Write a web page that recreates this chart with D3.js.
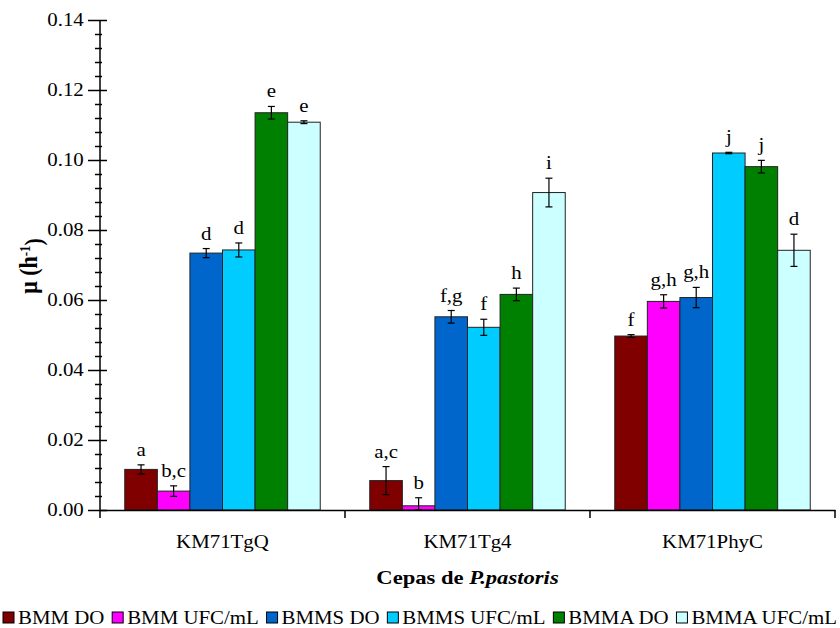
<!DOCTYPE html>
<html>
<head>
<meta charset="utf-8">
<style>
  body { margin: 0; background: #fff; }
  text { font-family: "Liberation Serif", "Times New Roman", serif; fill: #000; }
</style>
</head>
<body>
<svg id="chart" width="840" height="628"></svg>
<script src="https://d3js.org/d3.v7.min.js"></script>
<script>

var strains = ["KM71TgQ", "KM71Tg4", "KM71PhyC"];
var series = ["BMM DO", "BMM UFC/mL", "BMMS DO", "BMMS UFC/mL", "BMMA DO", "BMMA UFC/mL"];
var colors = ["#800000", "#ff00ff", "#0066cc", "#00ccff", "#008000", "#ccffff"];

// mean growth rate per strain, one value per series
var muTgQ  = [0.0116, 0.0054, 0.0734, 0.0743, 0.1135, 0.1108];
var muTg4  = [0.0084, 0.0012, 0.0552, 0.0522, 0.0616, 0.0907];
var muPhyC = [0.0497, 0.0596, 0.0607, 0.1020, 0.0981, 0.0742];

// standard deviations
var sdTgQ  = [0.0013, 0.0015, 0.0013, 0.0020, 0.0018, 0.0004];
var sdTg4  = [0.0040, 0.0023, 0.0018, 0.0023, 0.0018, 0.0041];
var sdPhyC = [0.0004, 0.0019, 0.0029, 0.0002, 0.0018, 0.0046];

// significance letters
var letTgQ  = ["a", "b,c", "d", "d", "e", "e"];
var letTg4  = ["a,c", "b", "f,g", "f", "h", "i"];
var letPhyC = ["f", "g,h", "g,h", "j", "j", "d"];

var yTicks = [0, 0.02, 0.04, 0.06, 0.08, 0.10, 0.12, 0.14];

var means = [muTgQ, muTg4, muPhyC],
    sds = [sdTgQ, sdTg4, sdPhyC],
    letters = [letTgQ, letTg4, letPhyC];

var data = [];
strains.forEach(function(s, i) {
  series.forEach(function(k, j) {
    data.push({strain: s, key: k, color: colors[j], v: means[i][j], e: sds[i][j], lab: letters[i][j]});
  });
});

var svg = d3.select("#chart"),
    pLeft = 100, pRight = 835, pTop = 20, pBottom = 510,
    sx = 1.16; // the original picture is a bit wider than tall

var y = d3.scaleLinear().domain([0, 0.14]).range([pBottom, pTop]);
var x0 = d3.scaleBand().domain(strains).range([pLeft, pRight]);
var x1 = d3.scaleBand().domain(series).range([0, x0.bandwidth()]).paddingOuter(0.76);

// bars
var g = svg.append("g");
g.selectAll("rect").data(data).enter().append("rect")
    .attr("x", function(d) { return x0(d.strain) + x1(d.key); })
    .attr("y", function(d) { return y(d.v); })
    .attr("width", x1.bandwidth())
    .attr("height", function(d) { return y(0) - y(d.v); })
    .attr("fill", function(d) { return d.color; })
    .attr("stroke", "#222")
    .attr("stroke-width", 1);

// error bars
var cx = function(d) { return x0(d.strain) + x1(d.key) + x1.bandwidth() / 2; };
var eb = g.selectAll("g.err").data(data).enter().append("g").attr("class", "err")
    .attr("stroke", "#000").attr("stroke-width", 1.2);
eb.append("line")
    .attr("x1", cx).attr("x2", cx)
    .attr("y1", function(d) { return y(d.v + d.e); })
    .attr("y2", function(d) { return y(Math.max(0, d.v - d.e)); });
eb.append("line")
    .attr("x1", function(d) { return cx(d) - 3.5; }).attr("x2", function(d) { return cx(d) + 3.5; })
    .attr("y1", function(d) { return y(d.v + d.e); }).attr("y2", function(d) { return y(d.v + d.e); });
eb.append("line")
    .attr("x1", function(d) { return cx(d) - 3.5; }).attr("x2", function(d) { return cx(d) + 3.5; })
    .attr("y1", function(d) { return y(Math.max(0, d.v - d.e)); }).attr("y2", function(d) { return y(Math.max(0, d.v - d.e)); });

// letters
g.selectAll("text.lab").data(data).enter().append("text").attr("class", "lab")
    .attr("transform", function(d) { return "translate(" + cx(d) + "," + (y(d.v + d.e) - 9) + ") scale(" + sx + ",1)"; })
    .attr("text-anchor", "middle")
    .style("font-size", "18px")
    .text(function(d) { return d.lab; });

// y axis
var minor = d3.range(0, 0.1401, 0.004).filter(function(v) { return Math.round(v * 1000) % 20 != 0; });
var yMinor = svg.append("g").attr("transform", "translate(" + pLeft + ",0)")
    .call(d3.axisLeft(y).tickValues(minor).tickSize(5).tickFormat(""));
yMinor.select(".domain").remove();
yMinor.selectAll(".tick line").attr("x1", 2).attr("stroke-width", 1.5);

var yAxis = svg.append("g").attr("transform", "translate(" + pLeft + ",0)")
    .call(d3.axisLeft(y).tickValues(yTicks).tickSize(12).tickPadding(2).tickFormat(d3.format(".2f")));
yAxis.select(".domain").attr("d", "M0," + (pBottom + 8) + "V" + pTop).attr("stroke-width", 1.5);
yAxis.selectAll(".tick line").attr("x1", 7).attr("stroke-width", 1.5);
yAxis.selectAll(".tick text")
    .attr("transform", "scale(" + sx + ",1)")
    .style("font-size", "18px").style("font-family", "Liberation Serif");

// x axis
var xAxis = svg.append("g").attr("transform", "translate(0," + pBottom + ")")
    .call(d3.axisBottom(x0).tickSize(0).tickPadding(25));
xAxis.select(".domain").attr("stroke-width", 1.5);
xAxis.selectAll(".tick text")
    .attr("transform", "scale(" + sx + ",1)")
    .style("font-size", "18px").style("font-family", "Liberation Serif");
xAxis.selectAll("line.bound").data(strains).enter().append("line").attr("class", "bound")
    .attr("x1", function(d) { return x0(d) + x0.bandwidth(); })
    .attr("x2", function(d) { return x0(d) + x0.bandwidth(); })
    .attr("y1", 0).attr("y2", 8)
    .attr("stroke", "#000").attr("stroke-width", 1.5);

// axis titles
var xt = svg.append("text")
    .attr("transform", "translate(" + ((pLeft + pRight) / 2) + ",584) scale(" + sx + ",1)")
    .attr("text-anchor", "middle")
    .style("font-size", "19.5px").style("font-weight", "bold");
xt.append("tspan").text("Cepas de ");
xt.append("tspan").style("font-style", "italic").text("P.pastoris");

var yt = svg.append("text")
    .attr("transform", "translate(37,266) rotate(-90) scale(1,1.16)")
    .attr("text-anchor", "middle")
    .style("font-size", "22px").style("font-weight", "bold");
yt.append("tspan").text("μ (h");
yt.append("tspan").attr("dy", "-0.45em").style("font-size", "13px").text("-1");
yt.append("tspan").attr("dy", "0.45em").text(")");

// legend
var leg = svg.append("g");
var items = leg.selectAll("g").data(series).enter().append("g");
items.append("rect")
    .attr("y", 612).attr("width", 11).attr("height", 11)
    .attr("fill", function(d, i) { return colors[i]; })
    .attr("stroke", "#000").attr("stroke-width", 1);
items.append("text")
    .attr("transform", "translate(15,624) scale(" + sx + ",1)")
    .style("font-size", "18px")
    .text(function(d) { return d; });

var widths = [];
items.each(function() {
  widths.push(15 + d3.select(this).select("text").node().getComputedTextLength() * sx);
});
var gap = (837 - 3 - d3.sum(widths)) / (series.length - 1), pos = 3;
items.attr("transform", function(d, i) {
  var t = "translate(" + pos + ",0)";
  pos += widths[i] + gap;
  return t;
});

</script>
</body>
</html>
